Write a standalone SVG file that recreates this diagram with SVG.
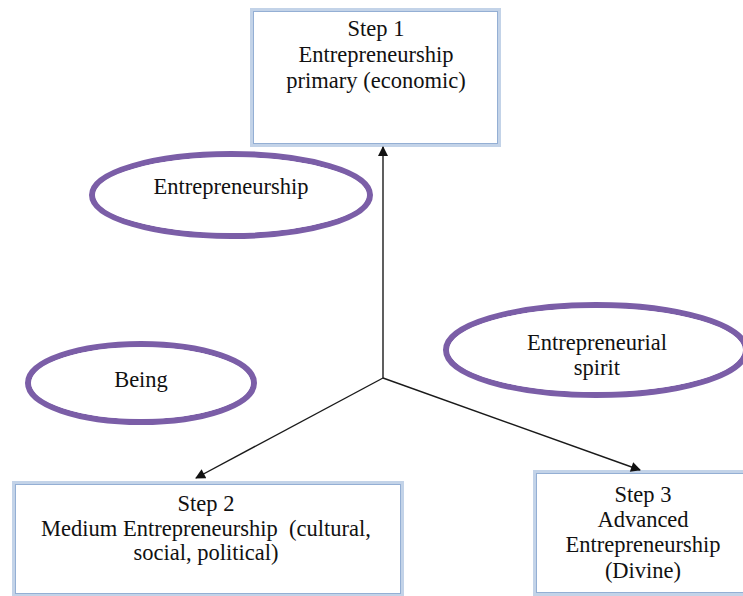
<svg xmlns="http://www.w3.org/2000/svg" width="743" height="596" viewBox="0 0 743 596">
  <style>
    .box-outer { fill: #ffffff; stroke: #c3d3e8; stroke-width: 4; }
    .box-inner { fill: none; stroke: #94afd4; stroke-width: 1; }
    .ell-outer { fill: #ffffff; stroke: #7b5ea7; stroke-width: 6; }
    .ell-gap { fill: none; stroke: #ffffff; stroke-width: 1.4; }
    .label { font-family: "Liberation Serif", "Times New Roman", serif; font-size: 22.5px; fill: #111111; text-anchor: middle; }
    .conn { fill: none; stroke: #1a1a1a; stroke-width: 1.4; }
  </style>
  <defs>
    <marker id="arrow" viewBox="0 0 10 10" refX="9" refY="5" markerWidth="11" markerHeight="10" markerUnits="userSpaceOnUse" orient="auto">
      <path d="M0,0 L10,5 L0,10 z" fill="#111111"/>
    </marker>
  </defs>
  <rect width="743" height="596" fill="#ffffff"/>

  <g id="step1">
    <rect class="box-outer" x="252" y="10" width="247" height="135"/>
    <rect class="box-inner" x="253.5" y="11.5" width="244" height="132"/>
    <text class="label" x="376" y="36">Step 1</text>
    <text class="label" x="376" y="62">Entrepreneurship</text>
    <text class="label" x="376" y="88">primary (economic)</text>
  </g>

  <g id="entrepreneurship">
    <ellipse class="ell-outer" cx="231" cy="195" rx="139" ry="41"/>
    <ellipse class="ell-gap" cx="231" cy="195" rx="135" ry="37"/>
    <text class="label" x="231" y="194">Entrepreneurship</text>
  </g>

  <g id="being">
    <ellipse class="ell-outer" cx="141" cy="383" rx="113" ry="39"/>
    <ellipse class="ell-gap" cx="141" cy="383" rx="109" ry="35"/>
    <text class="label" x="141" y="387">Being</text>
  </g>

  <g id="spirit">
    <ellipse class="ell-outer" cx="596" cy="350" rx="150" ry="45"/>
    <ellipse class="ell-gap" cx="596" cy="350" rx="146" ry="41"/>
    <text class="label" x="597" y="350">Entrepreneurial</text>
    <text class="label" x="597" y="375">spirit</text>
  </g>

  <g id="step2">
    <rect class="box-outer" x="14" y="483" width="388" height="112"/>
    <rect class="box-inner" x="15.5" y="484.5" width="385" height="109"/>
    <text class="label" x="206" y="511">Step 2</text>
    <text class="label" x="206" y="536" xml:space="preserve">Medium Entrepreneurship  (cultural,</text>
    <text class="label" x="206" y="560">social, political)</text>
  </g>

  <g id="step3">
    <rect class="box-outer" x="535" y="472" width="220" height="122"/>
    <rect class="box-inner" x="536.5" y="473.5" width="217" height="119"/>
    <text class="label" x="643" y="502">Step 3</text>
    <text class="label" x="643" y="527">Advanced</text>
    <text class="label" x="643" y="552">Entrepreneurship</text>
    <text class="label" x="643" y="578">(Divine)</text>
  </g>

  <g id="connectors">
    <path class="conn" d="M383,378 L383,147" marker-end="url(#arrow)"/>
    <path class="conn" d="M383,378 L196,478" marker-end="url(#arrow)"/>
    <path class="conn" d="M383,378 L640,470" marker-end="url(#arrow)"/>
  </g>
</svg>
